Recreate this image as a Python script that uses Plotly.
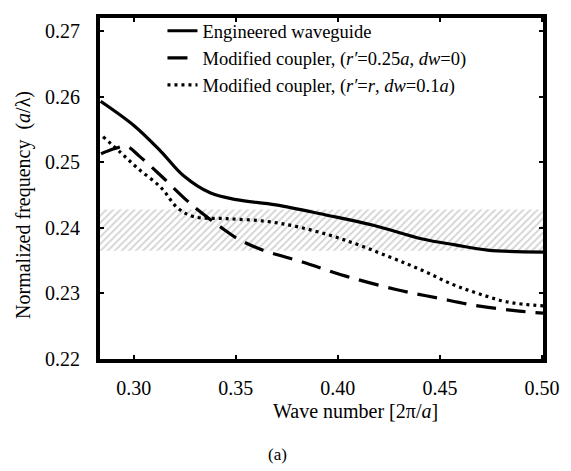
import plotly.graph_objects as go

# ---- data ----
k_solid = [0.2838, 0.3005, 0.3135, 0.3246, 0.3377, 0.3502, 0.3696, 0.3937, 0.4174, 0.4415, 0.4575, 0.4734, 0.5005]
f_solid = [0.2593, 0.2555, 0.2516, 0.2479, 0.2453, 0.2443, 0.2435, 0.2420, 0.2404, 0.2383, 0.2374, 0.2366, 0.2363]

k_dash = [0.2840, 0.2908, 0.2966, 0.3029, 0.3135, 0.3285, 0.3449, 0.3512, 0.3633, 0.3826, 0.4043, 0.4285, 0.4488, 0.4686, 0.4889, 0.5005]
f_dash = [0.2513, 0.2521, 0.2524, 0.2509, 0.2479, 0.2435, 0.2396, 0.2383, 0.2366, 0.2348, 0.2326, 0.2306, 0.2293, 0.2281, 0.2273, 0.2270]

k_dot = [0.2850, 0.2932, 0.3019, 0.3135, 0.3213, 0.3295, 0.3454, 0.3647, 0.3812, 0.4019, 0.4251, 0.4415, 0.4560, 0.4686, 0.4831, 0.5005]
f_dot = [0.2539, 0.2516, 0.2491, 0.2461, 0.2431, 0.2417, 0.2414, 0.2410, 0.2401, 0.2383, 0.2356, 0.2335, 0.2314, 0.2300, 0.2287, 0.2281]

band_low = 0.2365
band_high = 0.2428

x_range = [0.2835, 0.5005]
y_range = [0.22, 0.272]
x_ticks = [0.30, 0.35, 0.40, 0.45, 0.50]
y_ticks = [0.22, 0.23, 0.24, 0.25, 0.26, 0.27]

names = [
    "Engineered waveguide",
    "Modified coupler, (<i>r′</i>=0.25<i>a</i>, <i>dw</i>=0)",
    "Modified coupler, (<i>r′</i>=<i>r</i>, <i>dw</i>=0.1<i>a</i>)",
]

FONT = "Liberation Serif"

fig = go.Figure()

# hatched band
fig.add_trace(go.Scatter(
    x=[x_range[0], x_range[1], x_range[1], x_range[0], x_range[0]],
    y=[band_low, band_low, band_high, band_high, band_low],
    mode="lines", line=dict(width=0), fill="toself",
    fillcolor="white",
    fillpattern=dict(shape="/", fgcolor="#a8a8a8", bgcolor="white", size=5, solidity=0.35),
    showlegend=False, hoverinfo="skip",
))

fig.add_trace(go.Scatter(x=k_solid, y=f_solid, mode="lines", name=names[0],
                         line=dict(color="black", width=3.2, shape="spline")))
fig.add_trace(go.Scatter(x=k_dash, y=f_dash, mode="lines", name=names[1],
                         line=dict(color="black", width=3.2, dash="20px,10px", shape="spline")))
fig.add_trace(go.Scatter(x=k_dot, y=f_dot, mode="lines", name=names[2],
                         line=dict(color="black", width=3.2, dash="3px,4px", shape="spline")))

axis_common = dict(
    showline=True, linecolor="black", linewidth=4, mirror="ticks",
    ticks="inside", ticklen=4, tickwidth=2, tickcolor="black",
    showgrid=False, zeroline=False,
    tickfont=dict(family=FONT, size=20, color="black"),
    tickformat=".2f",
)

fig.update_xaxes(range=x_range, tickvals=x_ticks, ticklabelstandoff=8, **axis_common)
fig.update_yaxes(range=y_range, tickvals=y_ticks, ticklabelstandoff=12, **axis_common)

fig.update_layout(
    width=571, height=471,
    margin=dict(l=100, r=21, t=12, b=112),
    plot_bgcolor="white", paper_bgcolor="white",
    font=dict(family=FONT, color="black"),
    legend=dict(x=0.141, y=1.017, xanchor="left", yanchor="top",
                bgcolor="rgba(0,0,0,0)", borderwidth=0,
                font=dict(family=FONT, size=18.5, color="black"),
                tracegroupgap=0, itemwidth=30),
    annotations=[
        dict(text="Wave number [2π/<i>a</i>]", xref="paper", yref="paper",
             x=(360 - 100) / 450, y=-(412 - 359) / 347, xanchor="center", yanchor="middle",
             showarrow=False, font=dict(family=FONT, size=20, color="black")),
        dict(text="Normalized frequency  (<i>a</i>/λ)", xref="paper", yref="paper",
             x=-(100 - 23) / 450, y=1 - (202 - 12) / 347, xanchor="center", yanchor="middle",
             textangle=-90, showarrow=False, font=dict(family=FONT, size=20, color="black")),
        dict(text="(a)", xref="paper", yref="paper",
             x=(280 - 100) / 450, y=-(456 - 359) / 347, xanchor="center", yanchor="middle",
             showarrow=False, font=dict(family=FONT, size=17, color="black")),
    ],
)

fig.write_html("out.html")
